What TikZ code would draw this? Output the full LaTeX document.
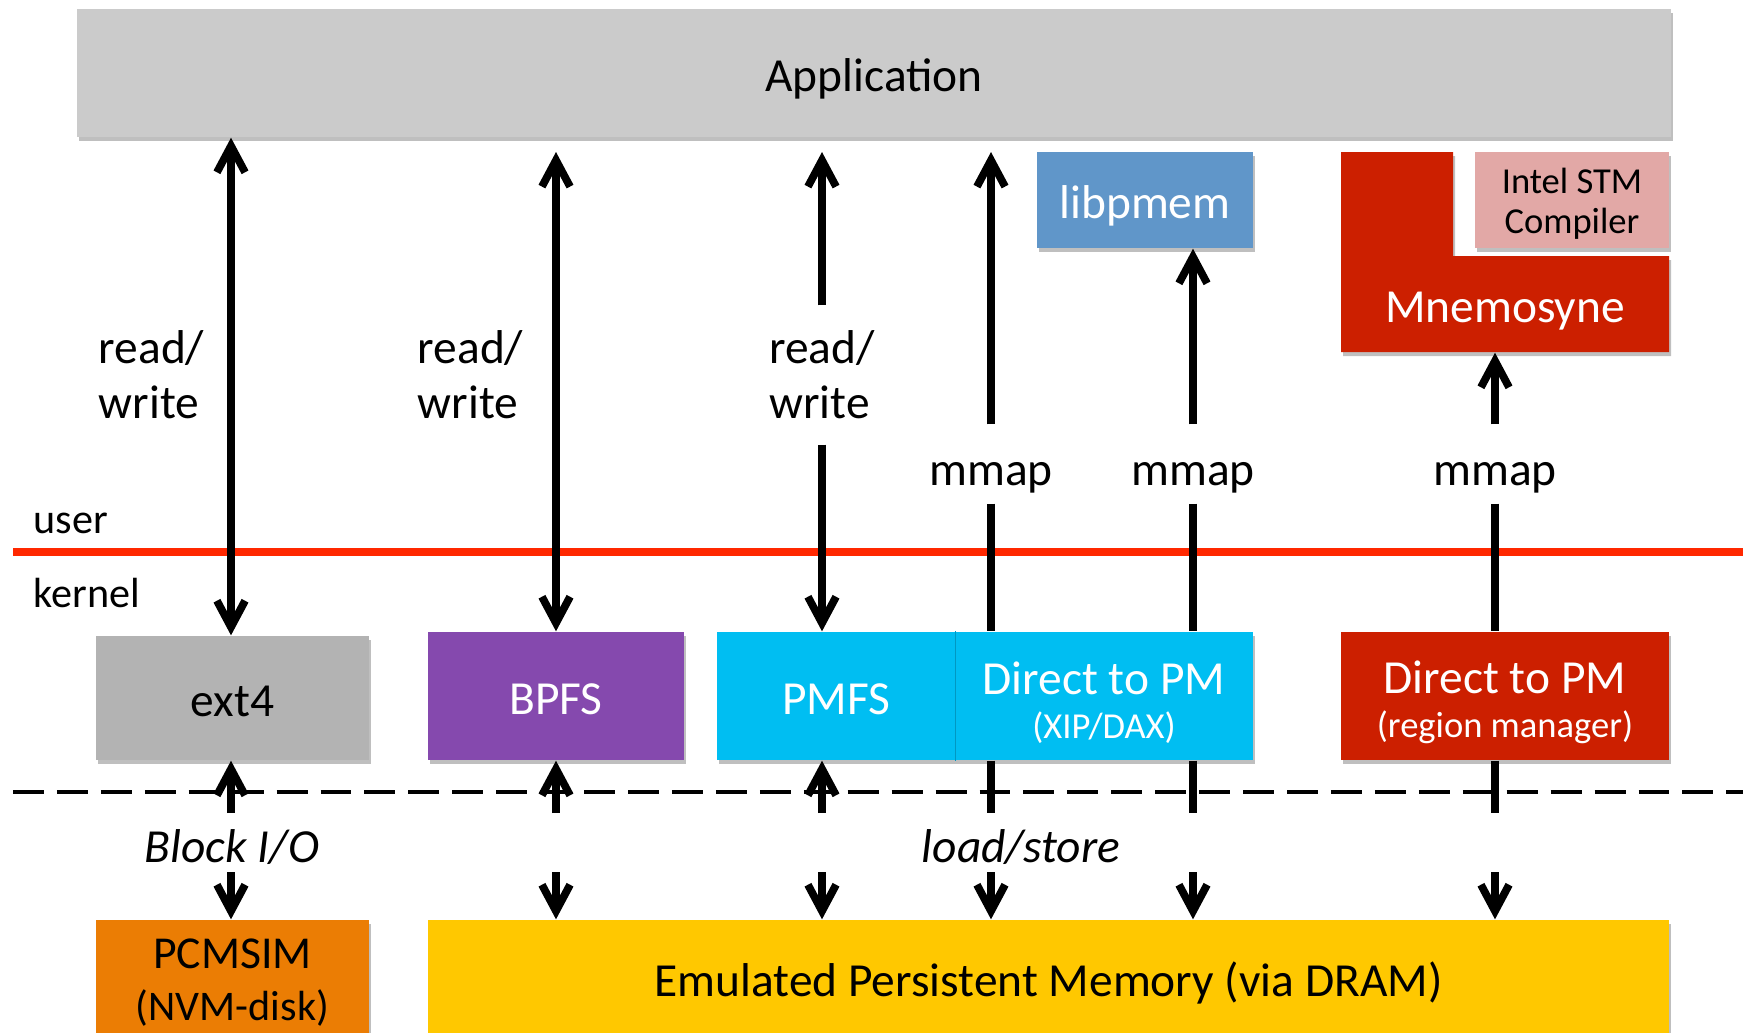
\documentclass[tikz,border=0pt]{standalone}
\usepackage{fontspec}
\setmainfont{Carlito}
\usetikzlibrary{arrows.meta,shadows}

\definecolor{appgray}{RGB}{203,203,203}
\definecolor{libblue}{RGB}{96,150,201}
\definecolor{mnered}{RGB}{204,31,0}
\definecolor{stmpink}{RGB}{226,168,166}
\definecolor{extgray}{RGB}{179,179,179}
\definecolor{bpfspurple}{RGB}{133,73,174}
\definecolor{pmfscyan}{RGB}{0,190,242}
\definecolor{pcmorange}{RGB}{235,125,4}
\definecolor{emuyellow}{RGB}{255,200,0}
\definecolor{splitred}{RGB}{255,40,0}

\newcommand{\fsbig}{\fontsize{13.5}{15.6}\selectfont}
\newcommand{\fsmid}{\fontsize{12}{14}\selectfont}
\newcommand{\fssmall}{\fontsize{10.4}{11.5}\selectfont}

\begin{document}
\begin{tikzpicture}
    % Define styles
    \tikzset{
        boxshadow/.style={drop shadow={shadow xshift=0.6pt, shadow yshift=-1.2pt, opacity=0.25, fill=black}},
        layerbox/.style={inner sep=0pt, align=center, font=\fsbig, boxshadow},
        oneline/.style={text height=13.4pt, text depth=3pt},
        flow/.style={line width=2.2pt, >={Straight Barb[length=7.5pt,width=8pt]}},
        optext/.style={inner sep=0pt, font=\fsbig, align=left},
        optgap/.style={inner sep=0pt, font=\fsbig, text height=0.60cm, text depth=0.18cm, anchor=base},
        access/.style={inner sep=0pt, font=\fsbig\itshape}
    }

    \useasboundingbox (0,0) rectangle (17.43,-10.32);

    % Column positions
    \coordinate (c1) at (2.31,0);
    \coordinate (c2) at (5.56,0);
    \coordinate (c3) at (8.22,0);
    \coordinate (c4) at (9.91,0);
    \coordinate (c5) at (11.93,0);
    \coordinate (c6) at (14.95,0);
    \coordinate (top) at (0,-1.52);
    \coordinate (lo) at (0,-8.13);
    \coordinate (hi) at (0,-8.72);

    % User space
    \node[layerbox, oneline, fill=appgray, minimum width=15.94cm, minimum height=1.28cm] (app) at (8.74,-0.73) {Application};
    \node[layerbox, oneline, fill=libblue, text=white, minimum width=2.16cm, minimum height=0.96cm] (libpmem) at (11.45,-2.00) {libpmem};
    \fill[mnered, boxshadow] (13.41,-1.52) -- (14.53,-1.52) -- (14.53,-2.56) -- (16.69,-2.56)
        -- (16.69,-3.52) -- (13.41,-3.52) -- cycle;
    \node[inner sep=0pt, oneline, font=\fsbig, text=white, minimum width=3.28cm, minimum height=0.96cm] (mnemo) at (15.05,-3.04) {Mnemosyne};
    \node[layerbox, fill=stmpink, font=\fssmall, minimum width=1.94cm, minimum height=0.96cm] (stm) at (15.72,-2.00) {\rule{0pt}{9.5pt}Intel STM\\Compiler};

    % Kernel
    \node[layerbox, oneline, fill=extgray, minimum width=2.73cm, minimum height=1.24cm] (ext4) at (2.325,-6.98) {ext4};
    \node[layerbox, oneline, fill=bpfspurple, text=white, minimum width=2.56cm, minimum height=1.28cm] (bpfs) at (5.56,-6.96) {BPFS};
    \node[layerbox, oneline, fill=pmfscyan, text=white, minimum width=2.38cm, minimum height=1.28cm] (pmfs) at (8.36,-6.96) {PMFS};
    \node[layerbox, fill=pmfscyan, text=white, minimum width=2.98cm, minimum height=1.28cm] (dax) at (11.04,-6.96) {\rule{0pt}{13pt}Direct to PM\\[-3pt]{\fssmall (XIP/DAX)}};
    \draw[pmfscyan!80!black, line width=0.4pt] (pmfs.north east) -- (pmfs.south east);
    \node[layerbox, fill=mnered, text=white, minimum width=3.28cm, minimum height=1.28cm] (rm) at (15.05,-6.96) {\rule{0pt}{13pt}Direct to PM\\[-3pt]{\fssmall (region manager)}};

    % Memory
    \node[layerbox, fill=pcmorange, minimum width=2.73cm, minimum height=1.25cm] (pcm) at (2.325,-9.825) {{\fontsize{13}{14}\selectfont PCMSIM}\\[-1pt]{\fsmid (NVM-disk)}};
    \node[layerbox, fill=emuyellow, minimum width=12.41cm, minimum height=1.25cm] (emu) at (10.485,-9.825) {Emulated Persistent Memory (via DRAM)};

    % Boundaries
    \draw[splitred, line width=2.3pt] (0.13,-5.52) -- (17.43,-5.52);
    \draw[line width=1.2pt, dash pattern=on 8.8pt off 3.7pt] (0.13,-7.92) -- (17.43,-7.92);
    \node[anchor=base west, inner sep=0pt, font=\fsmid] (user) at (0.33,-5.33) {user};
    \node[anchor=base west, inner sep=0pt, font=\fsmid] (kernel) at (0.33,-6.07) {kernel};

    % Operation labels
    \node[optext, anchor=west] (rw1) at (0.98,-3.75) {read/\\write};
    \node[optext, anchor=west] (rw2) at (4.17,-3.75) {read/\\write};
    \node[optext, minimum height=1.38cm] (rw3) at (8.22,-3.75) {read/\\write};
    \node[optgap] (mm1) at (9.91,-4.85) {mmap};
    \node[optgap] (mm2) at (11.93,-4.85) {mmap};
    \node[optgap] (mm3) at (14.95,-4.85) {mmap};
    \node[access] (blockio) at (2.32,-8.47) {Block I/O};
    \node[access] (loadstore) at (10.21,-8.47) {load/store};

    % User-kernel calls
    \draw[flow, <->] (c1 |- app.south) -- (c1 |- ext4.north);
    \draw[flow, <->] (c2 |- top) -- (c2 |- bpfs.north);
    \draw[flow, ->] (rw3.north) -- (c3 |- top);
    \draw[flow, ->] (rw3.south) -- (c3 |- pmfs.north);
    \draw[flow, ->] (mm1.north) -- (c4 |- top);
    \draw[flow] (mm1.south) -- (c4 |- dax.north);
    \draw[flow, ->] (mm2.north) -- (c5 |- libpmem.south);
    \draw[flow] (mm2.south) -- (c5 |- dax.north);
    \draw[flow, ->] (mm3.north) -- (c6 |- mnemo.south);
    \draw[flow] (mm3.south) -- (c6 |- rm.north);

    % Kernel-memory accesses
    \draw[flow, ->] (c1 |- lo) -- (c1 |- ext4.south);
    \draw[flow, ->] (c1 |- hi) -- (c1 |- pcm.north);
    \foreach \c/\b in {c2/bpfs, c3/pmfs} {
        \draw[flow, ->] (\c |- lo) -- (\c |- \b.south);
        \draw[flow, ->] (\c |- hi) -- (\c |- emu.north);
    }
    \foreach \c/\b in {c4/dax, c5/dax, c6/rm} {
        \draw[flow] (\c |- \b.south) -- (\c |- lo);
        \draw[flow, ->] (\c |- hi) -- (\c |- emu.north);
    }
\end{tikzpicture}
\end{document}
